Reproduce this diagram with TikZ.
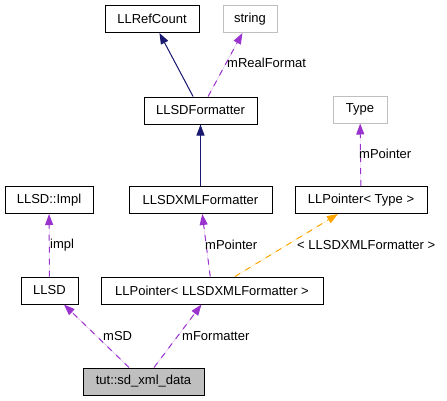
\documentclass[tikz,border=0pt]{standalone}
\usepackage{fontspec}
\setmainfont{Liberation Sans}
\usepackage{xcolor}
\usetikzlibrary{arrows.meta, positioning}
\definecolor{usecol}{HTML}{9A32CD}
\definecolor{inhcol}{HTML}{191970}
\definecolor{tplcol}{HTML}{FFA500}
\definecolor{boxgray}{HTML}{BFBFBF}
\tikzset{
    cls/.style={rectangle, draw, line width=1pt, minimum height=27pt, inner sep=0pt, text centered, font=\fontsize{13}{15}\selectfont},
    extcls/.style={cls, draw=boxgray},
    inherit/.style={line width=1pt, draw=inhcol, fill=inhcol, -{Triangle[length=11pt, width=8pt]}},
    member/.style={line width=1pt, draw=usecol, fill=usecol, dash pattern=on 6pt off 6pt, -{Triangle[length=11pt, width=8pt]}}
}

\begin{document}
\begin{tikzpicture}[x=1pt, y=-1pt,
    tmpl/.style={line width=1pt, draw=tplcol, fill=tplcol, dash pattern=on 6pt off 6pt, -{Triangle[length=11pt, width=8pt]}},
    lbl/.style={anchor=west, inner sep=0pt, font=\fontsize{13}{15}\selectfont}]
    \useasboundingbox (0,0) rectangle (447,400);

    % classes
    \node (refcount) [cls, minimum width=94pt] at (152,19) {LLRefCount};
    \node (string) [extcls, minimum width=54pt] at (250,19) {string};
    \node (formatter) [cls, minimum width=113pt] at (200.5,110.5) {LLSDFormatter};
    \node (type) [extcls, minimum width=54pt] at (360,109.5) {Type};
    \node (impl) [cls, minimum width=88pt] at (49,200) {LLSD::Impl};
    \node (xmlfmt) [cls, minimum width=143pt] at (200.5,200) {LLSDXMLFormatter};
    \node (ptrtype) [cls, minimum width=132pt] at (361,200) {LLPointer< Type >};
    \node (llsd) [cls, minimum width=57pt] at (49.5,290.5) {LLSD};
    \node (ptrxml) [cls, minimum width=222pt] at (212,290.5) {LLPointer< LLSDXMLFormatter >};
    \node (data) [cls, fill=boxgray, minimum width=121pt] at (143.5,381.5) {tut::sd\_xml\_data};

    % edges
    \draw [inherit] (formatter) -- (refcount);
    \draw [member] (formatter) -- (string);
    \draw [inherit] (xmlfmt) -- (formatter);
    \draw [member] (ptrtype) -- (type);
    \draw [member] (llsd) -- (impl);
    \draw [member] (ptrxml) -- (xmlfmt);
    \draw [tmpl] (ptrxml) -- (ptrtype);
    \draw [member] (data) -- (llsd);
    \draw [member] (data) -- (ptrxml);

    % edge labels
    \node (l1) [lbl] at (227,63) {mRealFormat};
    \node (l2) [lbl] at (359,154) {mPointer};
    \node (l3) [lbl] at (50,245) {impl};
    \node (l4) [lbl] at (205,245) {mPointer};
    \node (l5) [lbl] at (297,245) {< LLSDXMLFormatter >};
    \node (l6) [lbl] at (103,336) {mSD};
    \node (l7) [lbl] at (182,336) {mFormatter};
\end{tikzpicture}
\end{document}
